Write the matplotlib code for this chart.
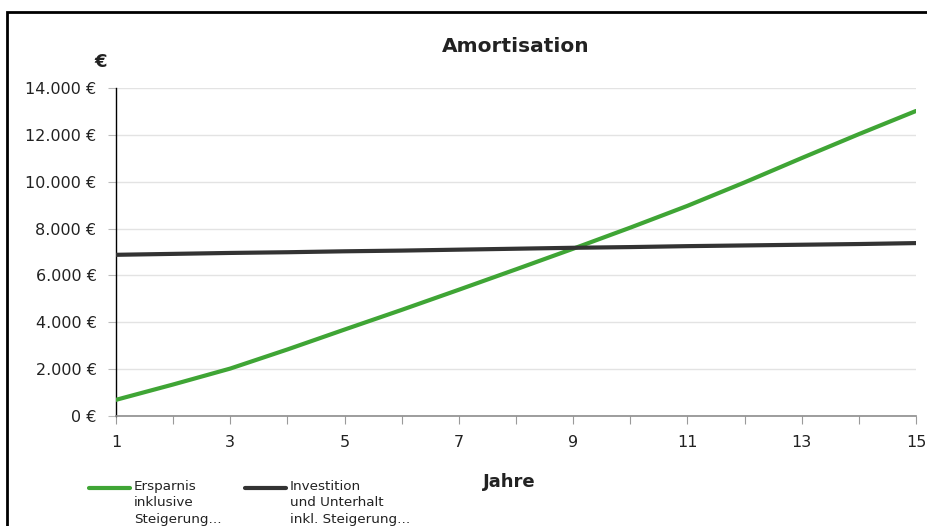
import matplotlib
matplotlib.use("Agg")
import matplotlib.pyplot as plt
from matplotlib.lines import Line2D
from matplotlib.patches import Rectangle
from matplotlib.ticker import FuncFormatter, MultipleLocator

years = list(range(1, 16))
ersparnis = [690, 1345, 2025, 2840, 3690, 4530, 5390, 6260, 7140, 8040, 8970, 9970, 11010, 12030, 13020]
investition = [6880, 6920, 6960, 6990, 7030, 7060, 7100, 7140, 7180, 7210, 7250, 7280, 7310, 7340, 7380]
series_labels = ["Ersparnis\ninklusive\nSteigerung...", "Investition\nund Unterhalt\ninkl. Steigerung..."]
title = "Amortisation"
xlabel = "Jahre"
ylabel = "€"

GREEN = "#3fa535"
DARK = "#333333"
W, H = 928, 526

plt.rcParams['font.family'] = ['DejaVu Sans']
fig = plt.figure(figsize=(W / 100, H / 100), dpi=100)

def fx(px):
    return px / W

def fy(py):
    return 1 - py / H

ax = fig.add_axes([fx(116), fy(416), fx(916) - fx(116), fy(88) - fy(416)])
ax.plot(years, ersparnis, color=GREEN, lw=3.0, solid_capstyle='round', zorder=3)
ax.plot(years, investition, color=DARK, lw=3.0, solid_capstyle='round', zorder=3)

ax.set_xlim(1, 15)
ax.set_ylim(0, 14000)
ax.yaxis.set_major_locator(MultipleLocator(2000))
ax.yaxis.set_major_formatter(FuncFormatter(lambda v, p: f"{int(v):,}".replace(",", ".") + " €"))
ax.set_xticks(years)
ax.set_xticklabels([str(y) if y % 2 == 1 else "" for y in years])
ax.grid(axis='y', color='#e3e3e3', lw=1.0)
ax.set_axisbelow(True)
for s in ['top', 'right']:
    ax.spines[s].set_visible(False)
ax.spines['left'].set_color('black')
ax.spines['left'].set_linewidth(1.0)
ax.spines['bottom'].set_color('#8c8c8c')
ax.spines['bottom'].set_linewidth(1.2)
ax.tick_params(axis='y', length=6, color='#bbbbbb', labelsize=11.5, pad=8, labelcolor='#222222')
ax.tick_params(axis='x', length=6, color='#9a9a9a', labelsize=11.5, pad=8, labelcolor='#222222')

fig.text(fx(516), fy(47), title, ha='center', va='center', fontsize=14.5, fontweight='bold', color='#222222')
fig.text(fx(101), fy(62), ylabel, ha='center', va='center', fontsize=13, fontweight='bold', color='#222222')
fig.text(fx(509), fy(482), xlabel, ha='center', va='center', fontsize=13, fontweight='bold', color='#222222')

# outer chart frame (cropped on right and bottom)
fig.patches.append(Rectangle((fx(7), fy(560)), fx(960) - fx(7), fy(12) - fy(560),
                             transform=fig.transFigure, fill=False, edgecolor='black', lw=2.0))

# legend
for (x0, x1), col, lab in [((89, 130), GREEN, series_labels[0]), ((245, 286), DARK, series_labels[1])]:
    fig.add_artist(Line2D([fx(x0), fx(x1)], [fy(487.5), fy(487.5)], transform=fig.transFigure,
                          color=col, lw=3.0, solid_capstyle='round'))
    fig.text(fx(x1 + 4), fy(480), lab, ha='left', va='top', fontsize=9.7, color='#222222', linespacing=1.33)

fig.savefig("out.png", dpi=100)
